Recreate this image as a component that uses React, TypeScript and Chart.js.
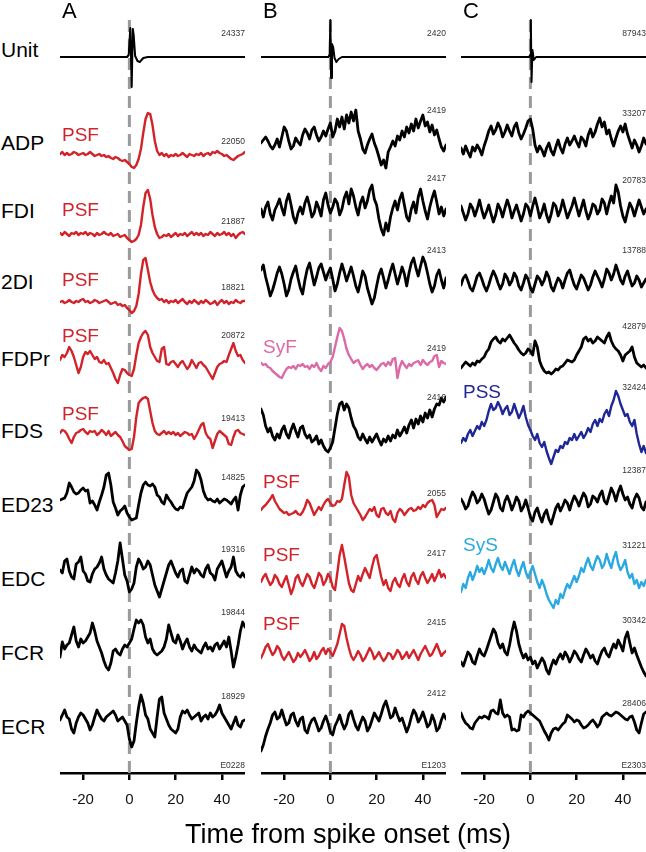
import React, { useEffect, useRef } from 'react';
import { Chart, registerables } from 'chart.js';

Chart.register(...registerables);

// ---------- data ----------
const T_MIN = -30;
const T_MAX = 50;
const X_TICKS = [-20, 0, 20, 40];
const X_TITLE = 'Time from spike onset (ms)';
const COLUMN_LABELS = ['A', 'B', 'C'];
const ROW_LABELS = ['Unit', 'ADP', 'FDI', '2DI', 'FDPr', 'FDS', 'ED23', 'EDC', 'FCR', 'ECR'];
const COUNTS_A = ['24337', '22050', '21887', '18821', '20872', '19413', '14825', '19316', '19844', '18929'];
const COUNTS_B = ['2420', '2419', '2417', '2413', '2419', '2416', '2055', '2417', '2415', '2412'];
const COUNTS_C = ['87943', '33207', '20783', '13788', '42879', '32424', '12387', '31221', '30342', '28406'];
const CELL_IDS = ['E0228', 'E1203', 'E2303'];
// effect class per row, per column ('' = none)
const EFFECT_A = ['', 'PSF', 'PSF', 'PSF', 'PSF', 'PSF', '', '', '', ''];
const EFFECT_B = ['', '', '', '', 'SyF', '', 'PSF', 'PSF', 'PSF', ''];
const EFFECT_C = ['', '', '', '', '', 'PSS', '', 'SyS', '', ''];

// sample times for averaged EMG (ms), -30..50 step 1
const TIME: number[] = [];
for (let t = T_MIN; t <= T_MAX; t++) TIME.push(t);

// unit spike-triggered averages (sparse time, amplitude a.u.)
const UNIT_A_T = [-30, -1, -0.3, 0.4, 1.0, 1.5, 1.9, 2.5, 3.5, 4.5, 6, 8, 50];
const UNIT_A_V = [-7, -7, -5, 22, -37, 21, 14, -6, -11, -12, -8, -7, -7];
const UNIT_B_T = [-30, -0.8, -0.3, 0, 0.3, 0.7, 1.2, 1.8, 2.6, 3.6, 5, 50];
const UNIT_B_V = [-7, -7, -4, 30, -28, 6, 3, -8, -12, -9, -7, -7];
const UNIT_C_T = [-30, -0.5, -0.1, 0.2, 0.5, 0.9, 1.5, 2.5, 50];
const UNIT_C_V = [-7, -7, -5, 30, -32, 0, -10, -7, -7];

// ---- column A (EMG averages, a.u., -30..50 ms)
const ADP_A = [-11,-9,-12,-10,-12,-11,-9,-10,-12,-11, -10,-12,-11,-9,-11,-13,-12,-11,-13,-12, -14,-13,-15,-16,-14,-15,-17,-18,-17,-19, -21,-24,-25,-22,-16,-6,10,24,30,29, 18,2,-8,-12,-10,-13,-11,-14,-12,-13, -11,-13,-12,-10,-12,-14,-11,-12,-13,-11, -12,-10,-13,-11,-10,-12,-9,-10,-8,-10, -11,-13,-12,-14,-16,-17,-15,-13,-12,-11, -9];
const FDI_A = [-22,-24,-21,-23,-25,-22,-23,-21,-24,-22, -23,-21,-24,-22,-23,-25,-22,-24,-23,-21, -23,-24,-22,-25,-24,-23,-26,-25,-24,-27, -29,-31,-30,-28,-24,-14,4,18,21,12, -4,-16,-23,-27,-26,-24,-25,-23,-26,-24, -22,-25,-23,-24,-22,-25,-23,-21,-24,-22, -24,-22,-25,-23,-24,-21,-23,-25,-22,-24, -23,-21,-24,-22,-25,-23,-27,-24,-22,-21, -23];
const DI2_A = [-20,-19,-21,-20,-18,-20,-21,-19,-20,-18, -17,-20,-19,-21,-20,-18,-19,-21,-20,-19, -18,-20,-22,-21,-20,-23,-22,-24,-23,-26, -28,-31,-29,-24,-12,8,22,24,12,0, -8,-13,-16,-18,-17,-20,-18,-21,-19,-20, -18,-21,-19,-17,-20,-22,-19,-21,-18,-20, -22,-19,-21,-18,-20,-22,-21,-19,-23,-20, -18,-21,-19,-22,-20,-21,-18,-20,-21,-19, -19];
const FDPR_A = [-1,4,2,6,12,8,2,-6,-14,-8, 2,7,5,8,4,0,2,-3,-4,-1, -5,-4,-9,-14,-20,-24,-16,-10,-11,-14, -16,-17,-10,4,16,22,26,28,24,12, 6,2,-2,-3,10,12,-5,-6,-3,-2, -5,-8,-4,-2,-6,-10,-7,-1,-5,-9, -4,-3,-6,-8,-12,-16,-20,-14,-8,-5, -4,-2,-3,4,10,16,8,3,4,-1, -4];
const FDS_A = [-2,1,0,-3,-8,-12,-6,-2,-1,1, 2,-1,-3,0,-1,0,-4,-2,1,-1, -4,0,-5,-3,-1,-4,-6,-10,-15,-17, -19,-18,-6,14,28,31,33,34,32,20, 8,0,-3,-4,-2,0,-3,-1,-3,-1, -4,-2,-5,-3,-1,-2,-4,-3,-8,-4, 1,6,8,-2,-6,-8,-17,-10,-3,0, -2,-4,-6,-13,-14,-6,0,1,-2,-3, -4];
const ED23_A = [5,6,7,12,22,18,13,11,12,15, 17,14,15,2,4,0,-5,3,10,18, 30,32,20,3,-3,-10,-6,-4,-1,-8, -12,-15,-14,-13,0,12,20,23,20,19, 21,18,10,8,3,1,10,6,3,-1, -4,-5,-2,-3,5,12,15,18,24,35, 32,25,14,8,5,6,4,3,6,2, 4,6,5,3,1,5,8,-5,10,18, 20];
const EDC_A = [9,6,18,20,8,2,0,15,17,22, 8,5,-2,-3,5,10,12,16,22,10, 4,0,-2,-4,6,18,36,20,4,-2, -13,-10,-4,12,20,16,10,12,18,14, 4,-6,-12,-18,-10,-2,6,14,18,12, 6,2,8,10,-2,-4,4,12,6,10, 8,4,2,10,14,6,4,-1,10,14, 18,10,2,8,12,22,8,4,2,6, 2];
const FCR_A = [-4,11,4,8,10,18,26,12,6,14, 10,12,16,20,30,22,12,6,0,-8, -14,-17,-10,2,4,0,-2,4,8,6, 10,14,24,33,30,33,28,16,10,14, 4,0,-2,0,2,6,14,28,20,12, 10,18,12,4,10,14,6,2,8,4, 2,0,6,10,4,6,2,8,10,4, 8,12,6,16,2,-14,-4,8,22,31, 26];
const ECR_A = [7,12,17,10,8,-2,-6,4,10,14, 12,8,4,-3,2,10,17,12,8,6, 10,12,14,16,12,6,8,10,6,2, -12,-20,-14,4,20,32,24,12,8,-2, -6,-10,10,28,30,14,8,2,-2,-4, -6,-2,10,16,14,17,12,8,10,12, 14,6,10,12,8,14,10,12,16,22, 14,10,6,2,-2,4,10,2,0,6, 7];

// ---- column B
const ADP_B = [0,3,6,2,-3,-6,-2,4,-4,6, 16,12,2,-6,-3,5,1,-2,8,14, 10,4,13,16,8,2,6,12,7,14, 20,6,12,24,16,26,14,28,20,31, 22,33,12,4,-6,-10,-2,4,9,0, -6,-14,-22,-17,-25,-9,-4,2,-3,7, 3,12,6,16,10,19,12,24,15,22, 28,17,21,11,18,8,13,4,-4,-8, -2];
const FDI_B = [2,-6,4,9,-3,-9,1,6,12,3, -4,10,17,6,-6,-12,-2,4,-3,8, 14,5,-6,-2,9,3,-5,11,18,6, -2,4,12,8,-4,2,13,19,7,22, 15,4,-4,8,14,3,10,21,26,12, 6,-8,-18,-24,-12,-20,-6,3,10,1, 12,18,6,-6,-10,2,9,-2,14,22, 10,0,-8,4,13,20,9,-3,4,-5, 2];
const DI2_B = [12,17,5,-4,-14,-8,0,9,15,8, -2,-14,-8,3,10,16,4,-6,-12,2, 13,19,8,-3,5,14,18,10,2,9, 14,3,-9,-2,9,18,10,1,8,15, 6,-4,-10,0,11,6,-6,-14,-22,-16, -4,7,13,4,-6,2,11,18,8,-2, 6,15,8,-4,9,19,24,14,6,16, 25,19,9,-2,-10,-4,7,12,2,-6, 4];
const FDPR_B = [-4,-6,-5,-8,-9,-12,-14,-16,-18,-19, -14,-10,-8,-9,-7,-10,-6,-7,-5,-8, -7,-10,-6,-8,-4,-9,-12,-7,-9,-5, -3,2,12,22,31,28,20,10,4,0, -4,-2,-1,-6,-10,-7,-5,-8,-6,-9, -11,-8,-5,-4,-7,-3,-6,0,1,-19, -8,-2,-6,-9,-5,-7,-4,-3,-2,-6, -1,-4,-6,-3,-2,3,4,-8,-2,-4, -5];
const FDS_B = [22,16,5,-1,3,-5,-9,-3,-7,1, 5,-3,-7,1,7,0,-6,3,5,-3, -7,-4,-11,-9,-5,-13,-9,-15,-19,-21, -17,-11,3,17,27,29,21,27,23,13, 5,1,-6,-9,-3,-8,-12,-6,-11,-7, -3,-9,-14,-8,-11,-5,-10,-4,-7,1, -5,-1,4,-2,6,11,3,12,7,15, 9,18,13,21,14,22,27,26,33,29, 34];
const ED23_B = [-5,-2,0,3,6,10,4,0,-4,-6, -8,-7,-10,-9,-8,-6,-9,-10,-7,-2, 5,2,-4,-10,-6,-2,-5,0,4,6, 2,-1,0,4,3,6,20,33,28,10, 2,-2,-6,-10,-15,-12,-8,-4,-6,-2, -10,-12,-4,-3,-8,-10,-6,-14,-17,-8, -4,-6,-10,-7,-4,-3,-6,-5,-2,-4, 0,-2,2,4,5,0,-12,-8,-4,-5, -3];
const EDC_B = [-3,2,5,-1,-6,-3,4,1,-5,-8, -2,3,-6,-15,-9,1,4,-3,-7,-1, 5,2,-5,-9,-2,6,3,-6,-2,5, 1,-8,-11,6,24,34,22,9,-4,-11, -13,-5,3,-2,5,11,6,1,12,21, 24,13,2,-6,-1,-9,-12,-3,1,-5, -8,0,5,-3,-7,2,6,-1,-5,3, 7,1,-4,0,5,-2,3,9,2,5, 1];
const FCR_B = [-5,0,6,9,3,-2,1,7,4,-3, -7,-3,1,-4,-9,-6,0,-4,-1,3, -2,-8,-5,1,-6,-3,2,5,-1,4, 1,-3,3,9,19,29,27,15,5,-3, -7,-3,2,-2,-8,-5,0,5,1,-6, -3,1,-4,-8,-5,0,-1,-6,-2,3, 0,-6,-3,1,-5,-1,3,-2,-7,-1, 3,7,2,-3,-1,4,9,3,-3,0, 2];
const ECR_B = [-24,-18,-9,-2,4,12,15,8,10,17, 9,2,4,12,14,6,1,8,10,-3, -6,2,7,9,3,-4,-1,6,11,4, -5,-8,1,6,12,4,-2,3,13,16, 8,1,-3,4,10,6,-4,0,7,14, 10,6,13,21,26,18,9,11,19,12, 6,9,2,-5,1,10,17,13,5,9, 15,8,0,3,12,6,-4,-1,7,13, 8];

// ---- column C
const ADP_C = [-5,-11,-3,-9,-14,-4,-8,-2,-6,-12, -3,4,12,17,9,13,20,15,6,11, 18,12,7,16,20,10,4,9,15,22, 24,14,-2,-9,-3,-7,-13,-5,0,-8, -12,-4,3,-5,-10,-1,5,-2,2,7, 1,-4,6,3,-3,8,14,6,11,19, 25,16,21,9,13,4,-3,5,12,17, 11,19,9,2,-5,3,-2,-9,-3,5, -1];
const FDI_C = [5,-2,-9,-3,7,3,-5,2,11,1, -7,-1,6,-3,-11,-4,7,2,-6,3, 11,4,-7,0,6,-2,-10,-3,7,4, -5,5,13,4,-7,-1,7,-4,-11,-3, 8,5,-5,1,11,2,-7,-1,5,13, 4,-5,3,11,0,-8,-2,7,5,-3, 1,12,8,-3,7,15,8,26,19,5, -5,-11,-1,8,3,-5,3,11,4,-3, 2];
const DI2_C = [-3,4,7,1,-6,-9,-2,6,9,3, -4,-9,-3,5,11,6,-1,-7,-2,8, 4,-3,1,9,5,-4,-8,-1,7,3, -6,-10,-2,6,3,-3,2,10,5,-5, -9,-2,4,1,-6,2,9,12,4,-3, -7,0,7,4,-2,-8,-3,5,11,6, 1,-5,3,13,9,2,8,17,10,2, -2,6,11,3,-4,-1,6,2,-5,-1, 3];
const FDPR_C = [-9,-6,-3,-5,-7,-4,-6,-2,-3,0, 2,7,10,17,20,22,18,16,20,18, 21,24,20,16,13,9,6,4,6,10, 8,4,18,12,-2,-8,-12,-14,-13,-15, -13,-10,-11,-8,-7,-4,-1,-2,-3,-1, 4,8,12,20,22,18,20,16,18,22, 20,18,16,22,26,18,13,10,8,4, -2,4,6,8,12,2,-4,-6,-8,-6, -9];
const FDS_C = [-12,-7,-10,-3,1,-5,0,5,2,9, 5,11,20,27,21,23,29,24,17,22, 25,16,19,27,20,13,18,25,14,6, 1,-5,-9,-3,-12,-16,-11,-20,-27,-33, -26,-19,-21,-15,-17,-11,-13,-7,-9,-3, -9,-5,-1,-7,-3,3,-1,7,11,5, 12,9,17,21,15,25,31,40,35,27, 21,15,17,9,5,11,-3,-13,-21,-15, -22];
const ED23_C = [6,2,-4,-1,7,13,9,2,5,11, 6,-2,-9,-5,3,11,7,-3,-6,4, 9,3,-5,1,8,4,-6,-2,5,-3, -12,-16,-7,-3,-11,-17,-9,-5,-14,-19, -11,-3,1,-6,-1,5,2,-5,3,9, 5,-1,6,12,8,-2,1,9,7,3, 10,14,4,1,9,17,12,4,13,19, 11,5,8,1,-3,6,11,7,-2,-5, 3];
const EDC_C = [-13,-5,-9,1,7,-1,5,13,7,11, 5,11,19,11,7,15,21,13,9,17, 11,5,13,19,9,3,11,17,7,1, 7,13,5,-3,-9,-1,-7,-15,-21,-25, -29,-21,-25,-15,-19,-11,-5,-9,-3,3, -3,3,11,7,15,21,13,9,17,23, 19,11,15,25,17,11,21,27,15,9, 13,19,7,1,5,-5,-1,-9,-3,-7, -1];
const FCR_C = [-9,-13,-6,1,-2,-9,-11,-3,4,-1, -3,3,10,17,24,20,10,5,9,1, -2,8,21,31,22,9,1,-5,-1,-7, -4,-11,-8,-15,-10,-5,-9,-17,-21,-13, -7,-11,-5,-1,-6,1,-3,-9,-4,2, -1,-6,-9,-2,4,0,-5,-2,-8,-11, -4,2,5,-1,-4,3,9,5,13,8, 2,15,21,10,0,5,-2,-8,-14,-19, -23];
const ECR_C = [14,8,4,2,-1,-2,4,7,10,9, 11,10,8,16,17,14,13,27,14,10, 12,10,-3,-2,-4,-3,12,10,14,16, 14,12,10,8,6,1,-4,-8,-13,-6, -2,-1,-3,0,3,5,12,10,8,5, 7,6,2,-1,0,2,5,7,4,0, 3,10,12,14,12,11,13,15,14,12, 10,8,7,10,11,5,-3,-6,4,13, 15];

const EMG_A = [ADP_A, FDI_A, DI2_A, FDPR_A, FDS_A, ED23_A, EDC_A, FCR_A, ECR_A];
const EMG_B = [ADP_B, FDI_B, DI2_B, FDPR_B, FDS_B, ED23_B, EDC_B, FCR_B, ECR_B];
const EMG_C = [ADP_C, FDI_C, DI2_C, FDPR_C, FDS_C, ED23_C, EDC_C, FCR_C, ECR_C];

// ---------- layout / style ----------
const ROW_Y = [50, 143, 211, 282, 359, 431, 505, 579, 653, 727];
const COL_LEFT = [60, 261, 461];
const COL_W = 185;
const CANVAS_H = 820;
const AXIS_Y = 773;
const FONT = '"Liberation Sans", Arial, Helvetica, sans-serif';
const EFFECT_COLOR: Record<string, string> = {
  '': '#000000',
  PSF: '#d3232a',
  SyF: '#dc6aa6',
  PSS: '#1e2795',
  SyS: '#2aa9e0',
};
const COUNT_Y = [
  [33, 141, 221, 287, 335, 418, 477, 549, 612, 696],
  [33, 110, 178, 250, 348, 397, 493, 553, 622, 693],
  [33, 113, 180, 250, 326, 387, 470, 545, 620, 703],
];
const EFFECT_Y = [
  [0, 135, 210, 280, 336, 414, 0, 0, 0, 0],
  [0, 0, 0, 0, 347, 0, 482, 555, 624, 0],
  [0, 0, 0, 0, 0, 392, 0, 545, 0, 0],
];

const COLS = [
  { unitT: UNIT_A_T, unitV: UNIT_A_V, emg: EMG_A, effects: EFFECT_A, counts: COUNTS_A },
  { unitT: UNIT_B_T, unitV: UNIT_B_V, emg: EMG_B, effects: EFFECT_B, counts: COUNTS_B },
  { unitT: UNIT_C_T, unitV: UNIT_C_V, emg: EMG_C, effects: EFFECT_C, counts: COUNTS_C },
];

const zeroLine = {
  id: 'zeroLine',
  beforeDatasetsDraw(chart: any) {
    const { ctx, chartArea, scales } = chart;
    const x = scales.x.getPixelForValue(0);
    ctx.save();
    ctx.strokeStyle = '#9a9a9a';
    ctx.lineWidth = 3;
    ctx.setLineDash([12, 7]);
    ctx.beginPath();
    ctx.moveTo(x, 20);
    ctx.lineTo(x, chartArea.bottom);
    ctx.stroke();
    ctx.restore();
  },
};

function ColumnChart({ idx }: { idx: number }) {
  const ref = useRef<HTMLCanvasElement>(null);
  useEffect(() => {
    const col = COLS[idx];
    const datasets: any[] = [];
    datasets.push({
      data: col.unitT.map((t, i) => ({ x: t, y: col.unitV[i] - ROW_Y[0] })),
      borderColor: '#000',
      borderWidth: 2,
    });
    col.emg.forEach((vals, k) => {
      const row = k + 1;
      const eff = col.effects[row];
      datasets.push({
        data: vals.map((v, i) => ({ x: TIME[i], y: v - ROW_Y[row] })),
        borderColor: EFFECT_COLOR[eff],
        borderWidth: eff ? 2.4 : 2.8,
      });
    });
    const chart = new Chart(ref.current as HTMLCanvasElement, {
      type: 'line',
      data: { datasets },
      plugins: [zeroLine],
      options: {
        animation: false,
        responsive: false,
        maintainAspectRatio: false,
        events: [],
        layout: { padding: 0 },
        plugins: { legend: { display: false }, tooltip: { enabled: false } },
        elements: {
          point: { radius: 0 },
          line: { tension: 0, borderJoinStyle: 'round', borderCapStyle: 'round', fill: false },
        },
        scales: {
          x: {
            type: 'linear',
            min: T_MIN,
            max: T_MAX,
            afterBuildTicks: (s: any) => {
              s.ticks = X_TICKS.map((v) => ({ value: v }));
            },
            grid: { drawOnChartArea: false, drawTicks: true, tickLength: 7, lineWidth: 2.5, color: '#000' },
            border: { display: true, color: '#000', width: 2.5 },
            ticks: { padding: 11, color: '#111', font: { family: FONT, size: 15 } },
          },
          y: { type: 'linear', display: false, min: -AXIS_Y, max: 0 },
        },
      },
    } as any);
    return () => chart.destroy();
  }, [idx]);
  return (
    <canvas
      ref={ref}
      width={COL_W}
      height={CANVAS_H}
      style={{ position: 'absolute', left: COL_LEFT[idx], top: 0, width: COL_W, height: CANVAS_H }}
    />
  );
}

const abs = (o: any) => ({ position: 'absolute' as const, whiteSpace: 'nowrap' as const, fontFamily: FONT, ...o });

export default function App() {
  const texts: any[] = [];
  ROW_LABELS.forEach((lab, r) => {
    texts.push(
      <div key={'row' + r} style={abs({ left: 1, top: ROW_Y[r] - 12, fontSize: 21, lineHeight: '24px', color: '#000' })}>
        {lab}
      </div>
    );
  });
  COLUMN_LABELS.forEach((lab, c) => {
    texts.push(
      <div key={'col' + c} style={abs({ left: COL_LEFT[c] + 2, top: -2, fontSize: 22, lineHeight: '26px', color: '#000' })}>
        {lab}
      </div>
    );
    COLS[c].counts.forEach((n, r) => {
      texts.push(
        <div key={'n' + c + r} style={abs({ left: COL_LEFT[c] + COL_W - 80, width: 80, textAlign: 'right', top: COUNT_Y[c][r] - 5, fontSize: 8.5, lineHeight: '10px', color: '#333' })}>
          {n}
        </div>
      );
      const eff = COLS[c].effects[r];
      if (eff) {
        texts.push(
          <div key={'e' + c + r} style={abs({ left: COL_LEFT[c] + 2, top: EFFECT_Y[c][r] - 11, fontSize: 19, lineHeight: '22px', color: EFFECT_COLOR[eff] })}>
            {eff}
          </div>
        );
      }
    });
    texts.push(
      <div key={'id' + c} style={abs({ left: COL_LEFT[c] + COL_W - 80, width: 80, textAlign: 'right', top: 760, fontSize: 8.5, lineHeight: '10px', color: '#333' })}>
        {CELL_IDS[c]}
      </div>
    );
  });
  texts.push(
    <div key="title" style={abs({ left: 98, width: 500, textAlign: 'center', top: 818, fontSize: 27, lineHeight: '32px', color: '#000' })}>
      {X_TITLE}
    </div>
  );
  return (
    <div style={{ position: 'absolute', left: 0, top: 0, width: 646, height: 852, background: '#fff', overflow: 'hidden' }}>
      {[0, 1, 2].map((i) => (
        <ColumnChart key={i} idx={i} />
      ))}
      {texts}
    </div>
  );
}
